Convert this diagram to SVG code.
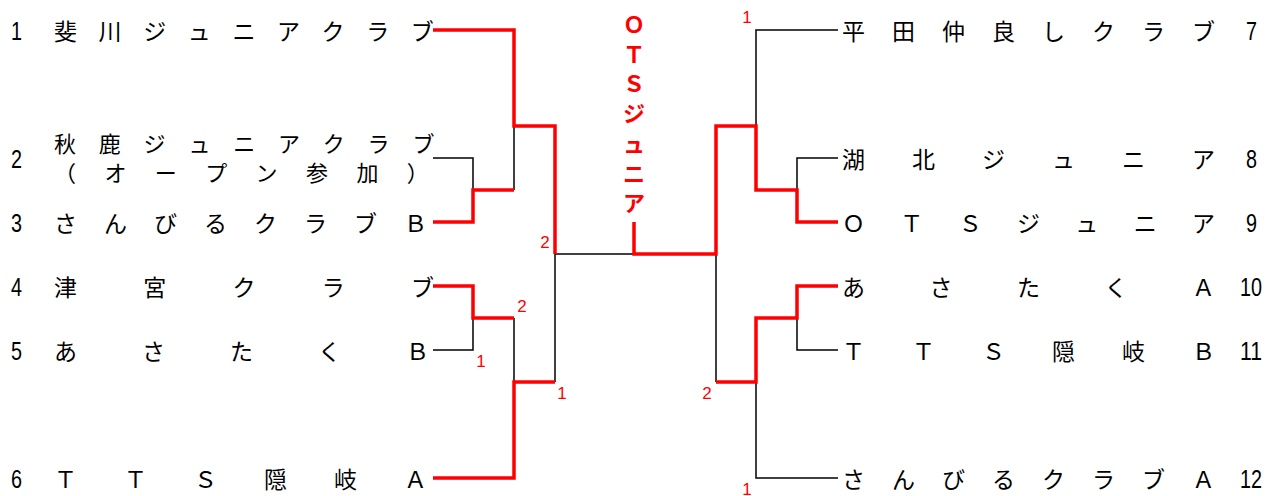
<svg xmlns="http://www.w3.org/2000/svg" width="1268" height="496" viewBox="0 0 1268 496">
<style>
.bg{fill:#fff}
.nm{font-family:"Noto Sans CJK JP","Liberation Sans",sans-serif;font-size:23px;fill:#000}
.nm2{font-family:"Noto Sans CJK JP","Liberation Sans",sans-serif;font-size:22px;fill:#000}
.num{font-family:"Liberation Sans",Arial,sans-serif;font-size:26px;fill:#000}
.sc{font-family:"Liberation Sans",Arial,sans-serif;font-size:17px;fill:#f00;text-anchor:middle}
.win{font-family:"Noto Sans CJK JP","Liberation Sans",sans-serif;font-size:22px;font-weight:bold;fill:#f00;text-anchor:middle}
.bk{fill:none;stroke:#000;stroke-width:1.5}
.rd{fill:none;stroke:#f00;stroke-width:3.5;stroke-linejoin:miter;stroke-linecap:butt}
</style>
<rect class="bg" x="0" y="0" width="1268" height="496"/>
<g id="connectors">
<path class="bk" d="M433,158 H473 V190"/>
<path class="bk" d="M514,190 V126"/>
<path class="bk" d="M433,350 H473 V318"/>
<path class="bk" d="M514,318 V382"/>
<path class="bk" d="M555,254 V382"/>
<path class="bk" d="M555,254 H634"/>
<path class="bk" d="M838,30 H756 V126"/>
<path class="bk" d="M838,158 H797 V190"/>
<path class="bk" d="M716,254 V382"/>
<path class="bk" d="M838,350 H797 V318"/>
<path class="bk" d="M838,478 H756 V382"/>
<path class="rd" d="M433,30 H514 V126 H555 V254"/>
<path class="rd" d="M433,222 H473 V190 H514"/>
<path class="rd" d="M433,286 H473 V318 H514"/>
<path class="rd" d="M433,478 H514 V382 H555"/>
<path class="rd" d="M634,222 V254 H716 V126 H756 V190 H797 V222 H838"/>
<path class="rd" d="M716,382 H756 V318 H797 V286 H838"/>
</g>
<g id="scores">
<text class="sc" x="747" y="23">1</text>
<text class="sc" x="545" y="248">2</text>
<text class="sc" x="522" y="312">2</text>
<text class="sc" x="481" y="367">1</text>
<text class="sc" x="562" y="399">1</text>
<text class="sc" x="707" y="399">2</text>
<text class="sc" x="747" y="495">1</text>
</g>
<g id="champion">
<text class="win"><tspan x="634" y="33">Ｏ</tspan><tspan x="634" y="62.7">Ｔ</tspan><tspan x="634" y="92.4">Ｓ</tspan><tspan x="634" y="122">ジ</tspan><tspan x="634" y="151.8">ュ</tspan><tspan x="634" y="181.5">ニ</tspan><tspan x="634" y="211.2">ア</tspan></text>
</g>
<g id="team1">
<text class="num" x="11" y="39.5" textLength="11" lengthAdjust="spacingAndGlyphs">1</text>
<text class="nm" x="54 98.6 143.2 187.8 232.4 277 321.6 366.2 410.8" y="40">斐川ジュニアクラブ</text>
</g>
<g id="team2">
<text class="num" x="11" y="167.5" textLength="11" lengthAdjust="spacingAndGlyphs">2</text>
<text class="nm2" x="54 98.8 143.6 188.4 233.2 278 322.8 367.6 412.4" y="152">秋鹿ジュニアクラブ</text>
<text class="nm2" x="54 104.4 154.8 205.2 255.6 306 356.4 406.8" y="181">（オープン参加）</text>
</g>
<g id="team3">
<text class="num" x="11" y="231.5" textLength="11" lengthAdjust="spacingAndGlyphs">3</text>
<text class="nm" x="54 104 154 204 254 304 354 404" y="232">さんびるクラブＢ</text>
</g>
<g id="team4">
<text class="num" x="11" y="295.5" textLength="11" lengthAdjust="spacingAndGlyphs">4</text>
<text class="nm" x="54 143.25 232.5 321.75 411" y="296">津宮クラブ</text>
</g>
<g id="team5">
<text class="num" x="11" y="359.5" textLength="11" lengthAdjust="spacingAndGlyphs">5</text>
<text class="nm" x="54 142 230 318 406" y="360">あさたくＢ</text>
</g>
<g id="team6">
<text class="num" x="11" y="487.5" textLength="11" lengthAdjust="spacingAndGlyphs">6</text>
<text class="nm" x="54 124 194 264 334 404" y="488">ＴＴＳ隠岐Ａ</text>
</g>
<g id="team7">
<text class="nm" x="842 892 942 992 1042 1092 1142 1192" y="40">平田仲良しクラブ</text>
<text class="num" x="1246" y="39.5" textLength="11" lengthAdjust="spacingAndGlyphs">7</text>
</g>
<g id="team8">
<text class="nm" x="842 912 982 1052 1122 1192" y="168">湖北ジュニア</text>
<text class="num" x="1246" y="167.5" textLength="11" lengthAdjust="spacingAndGlyphs">8</text>
</g>
<g id="team9">
<text class="nm" x="842 900.3 958.7 1017 1075.3 1133.7 1192" y="232">ＯＴＳジュニア</text>
<text class="num" x="1246" y="231.5" textLength="11" lengthAdjust="spacingAndGlyphs">9</text>
</g>
<g id="team10">
<text class="nm" x="842 929.5 1017 1104.5 1192" y="296">あさたくＡ</text>
<text class="num" x="1240" y="295.5" textLength="22" lengthAdjust="spacingAndGlyphs">10</text>
</g>
<g id="team11">
<text class="nm" x="842 912 982 1052 1122 1192" y="360">ＴＴＳ隠岐Ｂ</text>
<text class="num" x="1240" y="359.5" textLength="22" lengthAdjust="spacingAndGlyphs">11</text>
</g>
<g id="team12">
<text class="nm" x="842 892 942 992 1042 1092 1142 1192" y="488">さんびるクラブＡ</text>
<text class="num" x="1240" y="487.5" textLength="22" lengthAdjust="spacingAndGlyphs">12</text>
</g>
</svg>
